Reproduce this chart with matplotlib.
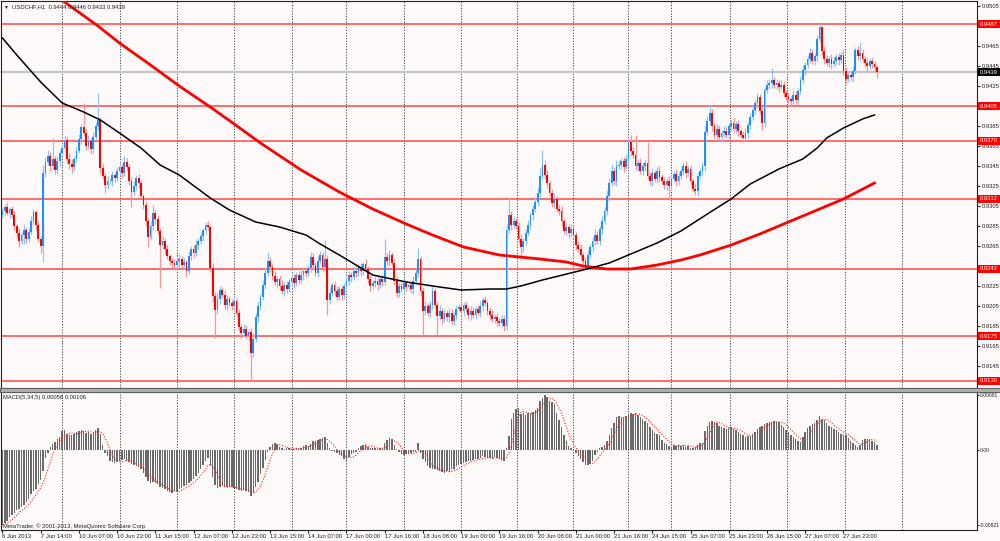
import matplotlib.pyplot as plt
import numpy as np
import pandas as pd
from matplotlib.patches import Rectangle
from matplotlib.transforms import blended_transform_factory

plt.rcParams['font.family'] = ['Liberation Sans', 'DejaVu Sans']

# USDCHF H1, prices in pips (9300 -> 0.9300)
first_open = 9296
close_pips = [
    9300, 9304, 9298, 9302, 9296, 9285, 9278, 9270, 9276, 9281,
    9272, 9279, 9290, 9299, 9286, 9272, 9265, 9338, 9349, 9355,
    9345, 9352, 9341, 9350, 9358, 9363, 9371, 9352, 9347, 9344,
    9352, 9360, 9372, 9384, 9378, 9365, 9370, 9362, 9374, 9385,
    9391, 9343, 9335, 9326, 9330, 9330, 9336, 9333, 9340, 9344,
    9338, 9349, 9344, 9330, 9319, 9325, 9333, 9328, 9315, 9306,
    9290, 9274, 9285, 9298, 9292, 9280, 9266, 9270, 9262, 9255,
    9250, 9248, 9246, 9250, 9252, 9246, 9249, 9240, 9255, 9262,
    9258, 9266, 9270, 9275, 9281, 9286, 9284, 9243, 9215, 9201,
    9212, 9221, 9216, 9206, 9212, 9208, 9205, 9210, 9198, 9184,
    9178, 9182, 9175, 9179, 9158, 9172, 9194, 9205, 9214, 9226,
    9238, 9250, 9244, 9235, 9229, 9232, 9225, 9220, 9226, 9222,
    9229, 9233, 9228, 9236, 9231, 9236, 9240, 9238, 9243, 9254,
    9246, 9238, 9250, 9256, 9244, 9252, 9211, 9218, 9226, 9220,
    9214, 9222, 9216, 9225, 9230, 9236, 9234, 9240, 9238, 9244,
    9240, 9247, 9242, 9232, 9225, 9228, 9230, 9226, 9232, 9229,
    9254, 9250, 9256, 9248, 9230, 9218, 9225, 9222, 9228, 9224,
    9226, 9222, 9230, 9238, 9252, 9220, 9200, 9205, 9198, 9206,
    9220, 9206, 9195, 9200, 9192, 9198, 9194, 9198, 9190, 9196,
    9202, 9204, 9200, 9206, 9202, 9196, 9200, 9196, 9202, 9198,
    9205, 9211, 9208, 9200, 9196, 9192, 9194, 9190, 9188, 9192,
    9185, 9281, 9296, 9286, 9290, 9285, 9272, 9264, 9270, 9278,
    9286, 9296, 9302, 9309, 9318, 9335, 9346, 9336, 9328, 9318,
    9308, 9312, 9302, 9300, 9290, 9280, 9284, 9278, 9282, 9276,
    9266, 9262, 9256, 9250, 9246, 9256, 9264, 9270, 9276, 9270,
    9282, 9290, 9300, 9315, 9328, 9340, 9330, 9345, 9346, 9350,
    9344, 9352, 9369, 9360, 9356, 9345, 9348, 9340, 9345, 9348,
    9335, 9330, 9338, 9332, 9340, 9334, 9330, 9326, 9330, 9325,
    9332, 9337, 9330, 9335, 9340, 9345, 9338, 9342, 9330, 9322,
    9320, 9335, 9340, 9345, 9379, 9390, 9398, 9385, 9376, 9382,
    9374, 9378, 9380, 9376, 9385, 9388, 9382, 9387, 9380, 9376,
    9373, 9378, 9386, 9394, 9401, 9408, 9414, 9400, 9388, 9421,
    9426, 9428, 9431, 9426, 9428, 9424, 9426, 9418, 9414, 9412,
    9410, 9416, 9411, 9420, 9431, 9441, 9446, 9452, 9458, 9450,
    9455, 9472, 9484, 9460, 9452, 9448, 9452, 9447, 9450, 9454,
    9451, 9456, 9440, 9432, 9436, 9434, 9440, 9461, 9455, 9458,
    9452, 9448, 9445, 9450, 9447, 9444, 9439,
]
# wick length above / below the body, pips
upper_wick = [
    4, 3, 5, 2, 3, 4, 2, 5, 3, 6,
    3, 4, 5, 3, 2, 4, 3, 8, 5, 6,
    4, 21, 3, 5, 3, 4, 4, 3, 6, 5,
    3, 4, 5, 3, 24, 4, 6, 3, 5, 4,
    27, 3, 4, 3, 5, 2, 4, 3, 4, 5,
    3, 6, 4, 3, 4, 5, 3, 4, 3, 2,
    4, 3, 5, 8, 3, 4, 3, 5, 3, 4,
    2, 3, 4, 3, 5, 3, 4, 2, 5, 3,
    4, 5, 3, 4, 2, 3, 4, 2, 5, 4,
    6, 4, 3, 5, 4, 3, 4, 5, 3, 4,
    3, 5, 4, 3, 4, 6, 4, 5, 3, 4,
    5, 9, 4, 3, 5, 3, 4, 6, 3, 4,
    3, 5, 4, 3, 4, 5, 3, 4, 3, 5,
    4, 3, 5, 4, 3, 19, 4, 5, 3, 4,
    5, 3, 4, 3, 5, 4, 3, 4, 5, 3,
    4, 2, 5, 3, 4, 3, 5, 4, 3, 4,
    18, 4, 5, 3, 4, 5, 3, 4, 5, 3,
    4, 3, 5, 4, 11, 3, 4, 5, 3, 4,
    5, 3, 4, 6, 3, 4, 3, 5, 4, 3,
    4, 3, 5, 3, 4, 3, 5, 4, 3, 4,
    5, 3, 4, 3, 4, 5, 3, 4, 3, 5,
    4, 6, 18, 4, 5, 3, 4, 5, 3, 4,
    5, 3, 4, 5, 6, 8, 15, 4, 5, 3,
    4, 6, 3, 4, 5, 3, 4, 3, 5, 4,
    3, 4, 5, 3, 4, 5, 3, 4, 6, 4,
    3, 5, 4, 6, 5, 7, 4, 6, 5, 3,
    4, 5, 2, 7, 4, 20, 3, 5, 4, 3,
    21, 4, 5, 3, 4, 5, 3, 4, 3, 5,
    4, 3, 5, 4, 3, 4, 5, 3, 4, 3,
    5, 4, 3, 4, 6, 5, 8, 4, 3, 5,
    4, 3, 5, 4, 3, 4, 5, 3, 4, 3,
    4, 5, 3, 4, 5, 3, 4, 3, 4, 3,
    5, 4, 12, 3, 4, 3, 5, 4, 3, 4,
    3, 5, 4, 3, 4, 5, 3, 4, 5, 4,
    3, 4, 3, 0, 5, 4, 3, 5, 4, 3,
    4, 3, 5, 4, 3, 4, 5, 3, 4, 11,
    4, 3, 5, 3, 4, 3, 2,
]
lower_wick = [
    3, 4, 2, 5, 3, 4, 5, 6, 3, 9,
    4, 3, 2, 4, 5, 3, 7, 16, 4, 3,
    5, 3, 4, 3, 5, 2, 3, 4, 5, 6,
    4, 3, 2, 5, 3, 4, 3, 5, 4, 3,
    4, 5, 3, 8, 4, 3, 5, 4, 3, 4,
    5, 3, 4, 4, 15, 3, 4, 5, 3, 4,
    5, 10, 3, 4, 5, 3, 43, 4, 5, 3,
    4, 5, 3, 4, 6, 3, 4, 6, 3, 4,
    5, 3, 4, 3, 5, 4, 3, 4, 6, 28,
    4, 5, 3, 4, 5, 3, 4, 5, 3, 4,
    5, 4, 3, 5, 28, 4, 3, 5, 4, 3,
    4, 3, 5, 4, 3, 5, 4, 3, 5, 4,
    3, 4, 5, 3, 4, 3, 5, 4, 3, 4,
    5, 3, 4, 3, 5, 4, 15, 4, 3, 5,
    4, 3, 5, 4, 3, 4, 5, 3, 4, 3,
    5, 4, 3, 4, 5, 3, 4, 5, 3, 4,
    3, 4, 5, 3, 4, 5, 4, 3, 5, 4,
    3, 4, 5, 3, 4, 5, 24, 4, 3, 5,
    4, 3, 19, 4, 5, 3, 4, 5, 3, 4,
    5, 3, 4, 5, 3, 4, 5, 3, 4, 3,
    4, 5, 3, 4, 5, 3, 4, 5, 3, 4,
    5, 4, 3, 5, 4, 3, 4, 13, 5, 4,
    3, 4, 5, 3, 4, 5, 3, 4, 5, 3,
    4, 5, 3, 4, 5, 3, 4, 5, 3, 4,
    5, 3, 4, 5, 3, 4, 3, 5, 4, 3,
    4, 5, 3, 4, 5, 3, 4, 5, 3, 4,
    5, 3, 4, 5, 3, 4, 5, 3, 4, 5,
    3, 4, 5, 3, 4, 5, 3, 4, 5, 14,
    4, 3, 5, 4, 3, 4, 5, 3, 4, 3,
    4, 5, 3, 4, 5, 3, 4, 5, 3, 4,
    3, 5, 4, 3, 4, 5, 3, 4, 5, 3,
    4, 3, 5, 4, 3, 4, 5, 3, 7, 4,
    3, 4, 5, 3, 4, 5, 3, 4, 3, 4,
    5, 3, 5, 4, 3, 4, 5, 3, 4, 3,
    4, 5, 3, 4, 5, 3, 4, 5, 3, 4,
    5, 3, 4, 5, 3, 4, 5, 3, 4, 5,
    3, 4, 5, 3, 4, 5, 6,
]
# MACD(5,34,5) main line, units of 0.00001
macd_main = [
    -921, -900, -870, -830, -800, -770, -740, -720, -700, -680,
    -640, -600, -540, -510, -480, -420, -370, -260, -100, -40,
    40, 70, 100, 130, 160, 230, 250, 200, 180, 185,
    200, 220, 235, 250, 230, 210, 225, 200, 215, 250,
    265, 200, 60, -40, -80, -130, -150, -160, -150, -140,
    -120, -110, -130, -150, -175, -190, -200, -210, -240, -280,
    -330, -380, -400, -390, -400, -420, -460, -470, -480, -500,
    -520, -530, -510, -500, -480, -470, -440, -430, -400, -380,
    -360, -320, -280, -240, -190, -140, -100, -200, -330, -430,
    -470, -460, -440, -450, -460, -450, -460, -470, -480, -490,
    -500, -490, -510, -515, -560, -530, -450, -390, -300, -220,
    -120, -30, 40, 75, 90, 70, 40, 20, 15, 30,
    20, 10, 15, 20, 25, 30, 45, 60, 50, 70,
    110, 110, 120, 140, 150, 155, 80, 20, -10, -30,
    -40, -60, -80, -110, -130, -90, -50, -40, -20, 20,
    50, 60, 70, 40, 20, 25, 20, 15, 20, 25,
    90, 120, 150, 130, 60, 10, -20, -50, -60, -45,
    -50, -40, -30, -20, 80, -40, -110, -150, -200, -220,
    -240, -230, -250, -260, -270, -280, -260, -270, -240, -230,
    -200, -190, -170, -160, -150, -140, -130, -120, -110, -115,
    -100, -80, -90, -100, -95, -110, -90, -100, -110, -120,
    -140, 20, 170, 380, 460, 500, 520, 440, 450, 430,
    450, 460, 470, 490, 520, 600, 640, 681, 650, 600,
    590, 560, 450, 370, 280, 190, 110, 50, 20, 10,
    -40, -70, -110, -150, -190, -180, -170, -130, -60, -30,
    20, 40, 60, 110, 180, 270, 330, 400, 420, 410,
    400, 420, 440, 450, 440, 460, 430, 400, 380, 360,
    330, 280, 240, 210, 200, 180, 120, 90, 70, 50,
    40, 60, 50, 60, 50, 60, 40, 50, 30, 20,
    40, 60, 80, 90, 230, 300, 350, 360, 350, 330,
    300, 280, 270, 260, 270, 280, 260, 240, 220, 200,
    180, 165, 170, 175, 200, 220, 260, 280, 290, 320,
    330, 340, 350, 360, 350, 340, 310, 280, 250, 220,
    190, 160, 130, 110, 100, 160, 220, 270, 300, 320,
    330, 370, 420, 380, 370, 330, 300, 280, 260, 240,
    220, 200, 190, 180, 150, 110, 80, 60, 40, 60,
    120, 140, 140, 130, 110, 92, 58,
]

# moving averages (bar index, pips)
ma_black_bar = [0, 6, 16, 25, 34, 41, 49, 58, 66, 74,
                87, 95, 106, 116, 127, 133, 141, 155, 169, 183,
                192, 204, 211, 217, 226, 243, 254, 264, 274, 284,
                297, 305, 313, 325, 335, 341, 345, 352, 360, 365]
ma_black = [9473, 9456, 9429, 9408, 9399, 9391, 9378, 9363, 9346, 9336,
            9313, 9301, 9289, 9284, 9276, 9267, 9256, 9236, 9229, 9224,
            9221, 9222, 9222, 9225, 9231, 9241, 9248, 9258, 9268, 9280,
            9300, 9312, 9327, 9342, 9352, 9363, 9373, 9383, 9392, 9396]
ma_red_bar = [0, 26, 40, 49, 62, 74, 87, 97, 108, 125,
              141, 155, 169, 180, 193, 208, 225, 236, 243, 253,
              263, 274, 284, 292, 305, 317, 328, 339, 352, 365]
ma_red = [9556, 9509, 9485, 9468, 9446, 9425, 9404, 9387, 9368, 9341,
          9319, 9302, 9287, 9276, 9264, 9256, 9252, 9249, 9245, 9242,
          9242, 9246, 9251, 9256, 9266, 9277, 9288, 9299, 9312, 9328]

levels = [0.9487, 0.9405, 0.9370, 0.9312, 0.9242, 0.9175, 0.9130]
last_price = 0.9439
price_ticks = [0.9505, 0.9465, 0.9445, 0.9425, 0.9385, 0.9365, 0.9345,
               0.9325, 0.9305, 0.9285, 0.9265, 0.9225, 0.9205, 0.9185,
               0.9165, 0.9145]
macd_ticks = [0.00681, 0.0, -0.00921]
macd_tick_labels = ['0.00681', '0.00', '-0.00921']
time_labels = ['6 Jun 2013', '7 Jun 14:00', '10 Jun 07:00', '10 Jun 23:00',
               '11 Jun 15:00', '12 Jun 07:00', '12 Jun 23:00', '13 Jun 15:00',
               '14 Jun 07:00', '17 Jun 00:00', '17 Jun 16:00', '18 Jun 08:00',
               '19 Jun 00:00', '19 Jun 16:00', '20 Jun 08:00', '21 Jun 00:00',
               '21 Jun 16:00', '24 Jun 15:00', '25 Jun 07:00', '25 Jun 23:00',
               '26 Jun 15:00', '27 Jun 07:00', '27 Jun 23:00']
label_step = 16
day_breaks = [25, 49, 73, 97, 121, 144, 168, 192, 215.5, 239, 262, 280,
              304.5, 328.5, 352.5, 376.5]

c = np.array(close_pips) / 1e4
o = np.r_[first_open, close_pips[:-1]] / 1e4
hi = np.maximum(o, c) + np.array(upper_wick) / 1e4
lo = np.minimum(o, c) - np.array(lower_wick) / 1e4
x = np.arange(len(c))
m = np.array(macd_main) / 1e5
sig = pd.Series(m).rolling(5, min_periods=1).mean().values

BG = '#FFFAFA'
FS = 4.2
W, H = 1000, 541
fig = plt.figure(figsize=(10, 5.41), dpi=100, facecolor=BG)


def box(l, t, r, b):
    return [l / W, 1 - b / H, (r - l) / W, (b - t) / H]


ax = fig.add_axes(box(1, 1, 977, 388), facecolor=BG)
axm = fig.add_axes(box(1, 392, 977, 530), facecolor=BG)
fig.add_artist(Rectangle((0, 1 - 392 / H), 1, 4 / H, transform=fig.transFigure,
                         facecolor='#B0B0B0', edgecolor='#606060', lw=0.8))

xlim = (-0.6, 407.9)
for a in (ax, axm):
    a.set_xlim(*xlim)
    for d in day_breaks:
        a.axvline(d, color='#303030', lw=0.6, ls=(0, (1.5, 1.8)), zorder=1)
    for s in a.spines.values():
        s.set_color('#202020')
        s.set_linewidth(0.8)
    a.yaxis.tick_right()
    a.tick_params(axis='y', labelsize=FS, length=2, pad=1.2, colors='#202020')

# price panel
ax.set_ylim(0.9123, 0.9510)
ax.axhline(last_price, color='#C4C4C4', lw=1.6, zorder=1.5)
for lv in levels:
    ax.axhline(lv, color='#FF5050', lw=1.3, alpha=0.9, zorder=2)

up = c >= o
body_h = np.maximum(np.abs(c - o), 0.00004)
body_b = np.minimum(o, c)
ax.vlines(x[up], lo[up], hi[up], color='#8CC4FF', lw=0.9, zorder=3)
ax.vlines(x[~up], lo[~up], hi[~up], color='#FF9494', lw=0.9, zorder=3)
ax.bar(x[up], body_h[up], bottom=body_b[up], width=0.75, color='#1E8FFF', lw=0, zorder=4)
ax.bar(x[~up], body_h[~up], bottom=body_b[~up], width=0.75, color='#FF0000', lw=0, zorder=4)

ax.plot(ma_red_bar, np.array(ma_red) / 1e4, color='#FF0000', lw=2.0, zorder=5)
ax.plot(ma_black_bar, np.array(ma_black) / 1e4, color='#000000', lw=1.1, zorder=5)

ax.set_yticks(price_ticks, [f'{t:.4f}' for t in price_ticks])
ax.tick_params(axis='x', bottom=False, labelbottom=False)

tr = blended_transform_factory(ax.transAxes, ax.transData)
for lv in levels:
    ax.text(1.003, lv, f'{lv:.4f}', transform=tr, fontsize=FS, color='white',
            va='center', ha='left', zorder=10, clip_on=False,
            bbox=dict(boxstyle='square,pad=0.3', facecolor='#FF0000', edgecolor='none'))
ax.text(1.003, last_price, f'{last_price:.4f}', transform=tr, fontsize=FS, color='white',
        va='center', ha='left', zorder=10, clip_on=False,
        bbox=dict(boxstyle='square,pad=0.3', facecolor='#000000', edgecolor='none'))

# MACD panel
axm.set_ylim(-0.00984, 0.00713)
axm.bar(x, m, width=0.6, color='#6A6A6A', lw=0, zorder=3)
axm.plot(x, sig, color='#FF2020', lw=0.8, ls=(0, (1, 1.5)), zorder=4)
axm.set_yticks(macd_ticks, macd_tick_labels)
axm.tick_params(axis='y', labelsize=3.6, length=1.5, pad=0.6)
axm.set_xticks([label_step * k for k in range(len(time_labels))], time_labels, ha='left')
axm.tick_params(axis='x', labelsize=FS, length=2, pad=1, colors='#202020')

fig.text(3 / W, 1 - 7 / H, '\u25bc', fontsize=3.5, va='center', color='#202020')
fig.text(12 / W, 1 - 7 / H, 'USDCHF,H1  0.9444 0.9446 0.9433 0.9439',
         fontsize=FS, va='center', color='#202020')
fig.text(3 / W, 1 - 397 / H, 'MACD(5,34,5) 0.00058 0.00106',
         fontsize=FS, va='center', color='#202020')
fig.text(3 / W, 1 - 526 / H, 'MetaTrader, \u00a9 2001-2013, MetaQuotes Software Corp.',
         fontsize=FS, va='center', color='#202020')

fig.savefig('out.png', dpi=100, facecolor=BG)
